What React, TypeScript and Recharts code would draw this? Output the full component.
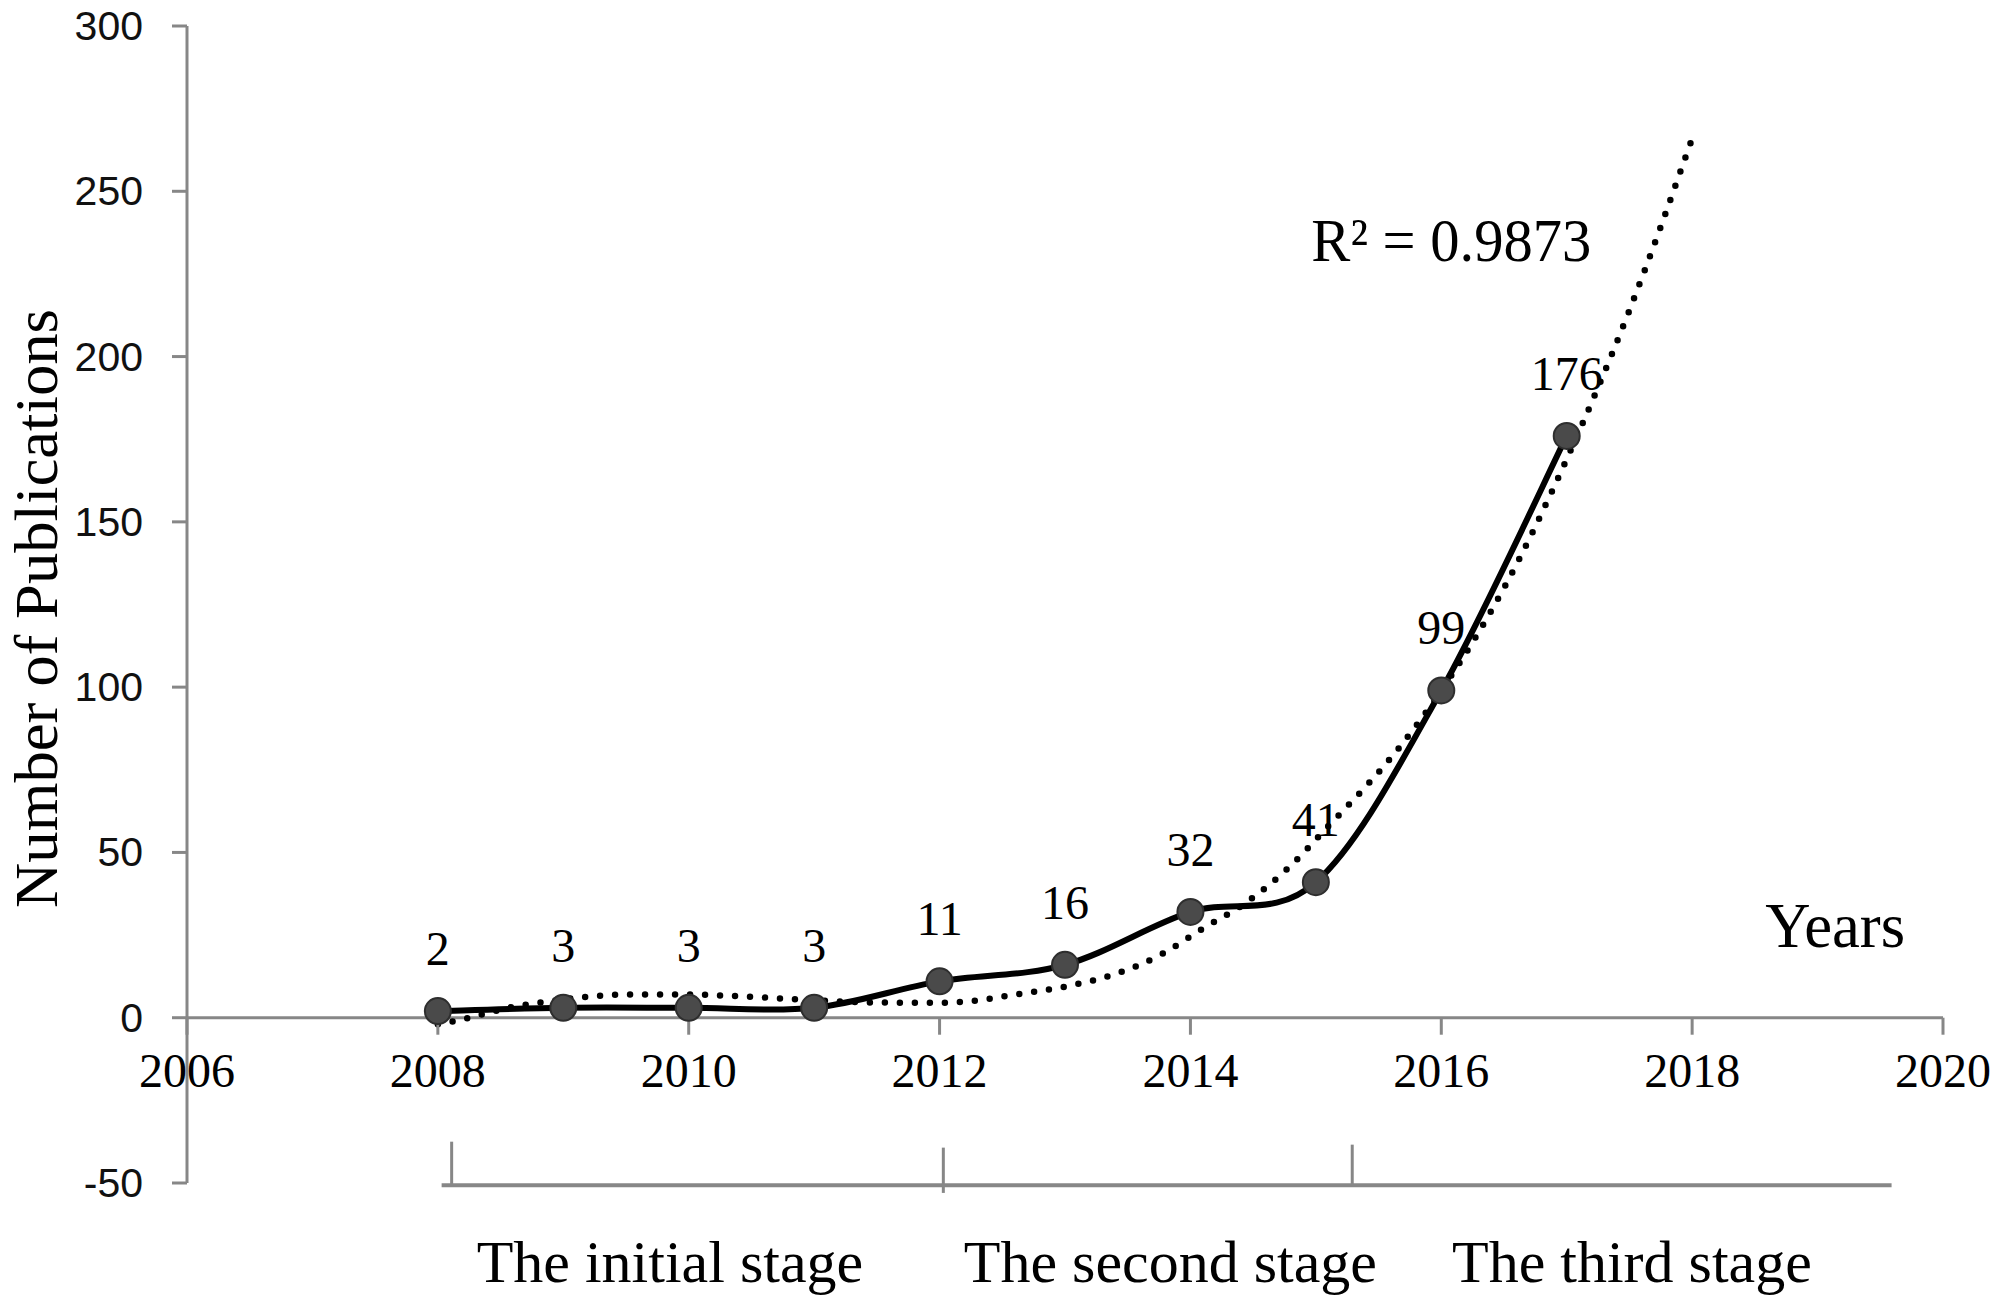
import React from 'react';
import {
  ComposedChart,
  Line,
  XAxis,
  YAxis,
  ReferenceLine,
  ReferenceDot,
  LabelList,
} from 'recharts';

// ---- data ----
const years = [2008, 2009, 2010, 2011, 2012, 2013, 2014, 2015, 2016, 2017];
const publications = [2, 3, 3, 3, 11, 16, 32, 41, 99, 176];

// dotted polynomial trend line
const trendYears = [
  2008.0, 2008.2, 2008.4, 2008.6, 2008.8, 2009.1, 2009.5, 2010.0, 2010.5, 2011.0,
  2011.5, 2012.0, 2012.3, 2012.6, 2013.0, 2013.4, 2013.75, 2014.1, 2014.45, 2014.8,
  2015.1, 2015.4, 2015.65, 2016.0, 2016.5, 2017.0, 2017.5, 2018.0,
];
const trendValues = [
  -2.0, -0.5, 1.5, 3.3, 4.5, 6.0, 7.0, 7.0, 6.3, 5.3,
  4.6, 4.5, 5.2, 7.0, 9.4, 13.2, 18.8, 27, 35, 46,
  58, 70, 81, 99, 130, 169, 214, 266,
];

const xTicks = [2006, 2008, 2010, 2012, 2014, 2016, 2018, 2020];
const yTicks = [-50, 0, 50, 100, 150, 200, 250, 300];

const stageNames = ['The initial  stage', 'The second stage', 'The third stage'];
const stageCenters = [2009.85, 2013.84, 2017.52];
const stageLabelLevel = -80;
const stageDividers = [2008.11, 2012.03, 2015.29];
const dividerTops = [-37.5, -39.3, -38.4];
const dividerBottoms = [-50.7, -53, -50.7];
const bracketSpan = [2008.03, 2019.59];
const bracketLevel = -50.7;

const r2Label = 'R\u00B2 = 0.9873';
const r2Anchor = { x: 2016.08, y: 229 };
const xTitle = 'Years';
const xTitleAnchor = { x: 2019.14, y: 21.5 };
const yTitle = 'Number of Publications';

// ---- tables for the library ----
const mainData = years.map((year, i) => ({ year, count: publications[i] }));
const trendData = trendYears.map((year, i) => ({ year, trend: trendValues[i] }));

// ---- styles ----
const AXIS_GRAY = '#878787';
const SERIF = '"Liberation Serif", "Times New Roman", serif';
const SANS = '"Liberation Sans", Arial, sans-serif';

// Catmull-Rom style smoothing (like a spreadsheet "smoothed line")
function smoothCurve(context: any) {
  let pts: [number, number][] = [];
  return {
    areaStart() {},
    areaEnd() {},
    lineStart() {
      pts = [];
    },
    lineEnd() {
      const n = pts.length;
      if (n === 0) return;
      context.moveTo(pts[0][0], pts[0][1]);
      if (n === 1) return;
      const k = 1 / 6;
      for (let i = 0; i < n - 1; i++) {
        const p0 = pts[i === 0 ? 0 : i - 1];
        const p1 = pts[i];
        const p2 = pts[i + 1];
        const p3 = pts[i + 2 < n ? i + 2 : n - 1];
        context.bezierCurveTo(
          p1[0] + (p2[0] - p0[0]) * k,
          p1[1] + (p2[1] - p0[1]) * k,
          p2[0] - (p3[0] - p1[0]) * k,
          p2[1] - (p3[1] - p1[1]) * k,
          p2[0],
          p2[1]
        );
      }
    },
    point(x: number, y: number) {
      pts.push([+x, +y]);
    },
  };
}

const YTick = (props: any) => {
  const { x, y, payload } = props;
  return (
    <text x={x} y={y} dy={14} textAnchor="end" fontFamily={SANS} fontSize={41} fill="#111">
      {payload.value}
    </text>
  );
};

const YTitle = (props: any) => {
  const vb = props.viewBox || { x: 127, y: 26, width: 60, height: 1157 };
  const cx = vb.x + vb.width - 130;
  const cy = vb.y + vb.height / 2 + 4;
  return (
    <text
      x={cx}
      y={cy}
      transform={`rotate(-90, ${cx}, ${cy})`}
      textAnchor="middle"
      fontFamily={SERIF}
      fontSize={62}
      fill="#000"
      textLength={599}
      lengthAdjust="spacingAndGlyphs"
    >
      {yTitle}
    </text>
  );
};

const DataLabel = (props: any) => {
  const { x, y, value } = props;
  return (
    <text x={x} y={y - 46} textAnchor="middle" fontFamily={SERIF} fontSize={48} fill="#000">
      {value}
    </text>
  );
};

const xTickShape = (label: number) => (p: any) => (
  <g>
    <line x1={p.cx} y1={p.cy} x2={p.cx} y2={p.cy + 17} stroke={AXIS_GRAY} strokeWidth={3} />
    <text x={p.cx} y={p.cy + 69} textAnchor="middle" fontFamily={SERIF} fontSize={48} fill="#000">
      {label}
    </text>
  </g>
);

const textShape = (label: string, size: number, length?: number) => (p: any) => (
  <text
    x={p.cx}
    y={p.cy}
    textAnchor="middle"
    fontFamily={SERIF}
    fontSize={size}
    fill="#000"
    {...(length ? { textLength: length, lengthAdjust: 'spacingAndGlyphs' } : {})}
  >
    {label}
  </text>
);

export default function App() {
  return (
    <div style={{ position: 'absolute', left: 0, top: 0, width: 2000, height: 1308, background: '#fff' }}>
      <ComposedChart
        width={2000}
        height={1308}
        margin={{ top: 26, right: 57, bottom: 125, left: 127 }}
      >
        <XAxis
          dataKey="year"
          type="number"
          domain={[2006, 2020]}
          ticks={xTicks}
          hide
          height={0}
        />
        <YAxis
          type="number"
          domain={[-50, 300]}
          ticks={yTicks}
          interval={0}
          width={60}
          tickSize={15}
          tickMargin={29}
          axisLine={{ stroke: AXIS_GRAY, strokeWidth: 3 }}
          tickLine={{ stroke: AXIS_GRAY, strokeWidth: 3 }}
          tick={YTick}
          label={YTitle}
        />

        {/* horizontal axis drawn at zero */}
        <ReferenceLine y={0} stroke={AXIS_GRAY} strokeWidth={3} />
        {xTicks.map((t) => (
          <ReferenceDot key={`xt-${t}`} x={t} y={0} r={0} ifOverflow="visible" shape={xTickShape(t)} />
        ))}

        {/* stage bracket */}
        <ReferenceLine
          segment={[
            { x: bracketSpan[0], y: bracketLevel },
            { x: bracketSpan[1], y: bracketLevel },
          ]}
          stroke={AXIS_GRAY}
          strokeWidth={4}
          ifOverflow="visible"
        />
        {stageDividers.map((d, i) => (
          <ReferenceLine
            key={`div-${i}`}
            segment={[
              { x: d, y: dividerTops[i] },
              { x: d, y: dividerBottoms[i] },
            ]}
            stroke={AXIS_GRAY}
            strokeWidth={3}
            ifOverflow="visible"
          />
        ))}
        {stageNames.map((name, i) => (
          <ReferenceDot
            key={`stage-${i}`}
            x={stageCenters[i]}
            y={stageLabelLevel}
            r={0}
            ifOverflow="visible"
            shape={textShape(name, 60)}
          />
        ))}

        <ReferenceDot x={xTitleAnchor.x} y={xTitleAnchor.y} r={0} ifOverflow="visible" shape={textShape(xTitle, 63, 140)} />
        <ReferenceDot x={r2Anchor.x} y={r2Anchor.y} r={0} ifOverflow="visible" shape={textShape(r2Label, 62, 280)} />

        <Line
          data={trendData}
          dataKey="trend"
          type="monotone"
          stroke="#000"
          strokeWidth={6.5}
          strokeDasharray="0 15"
          strokeLinecap="round"
          dot={false}
          activeDot={false}
          isAnimationActive={false}
        />
        <Line
          data={mainData}
          dataKey="count"
          type={smoothCurve as any}
          stroke="#000"
          strokeWidth={6}
          dot={{ r: 13, fill: '#4a4a4a', stroke: '#2e2e2e', strokeWidth: 2 }}
          activeDot={false}
          isAnimationActive={false}
        >
          <LabelList dataKey="count" content={DataLabel} />
        </Line>
      </ComposedChart>
    </div>
  );
}
